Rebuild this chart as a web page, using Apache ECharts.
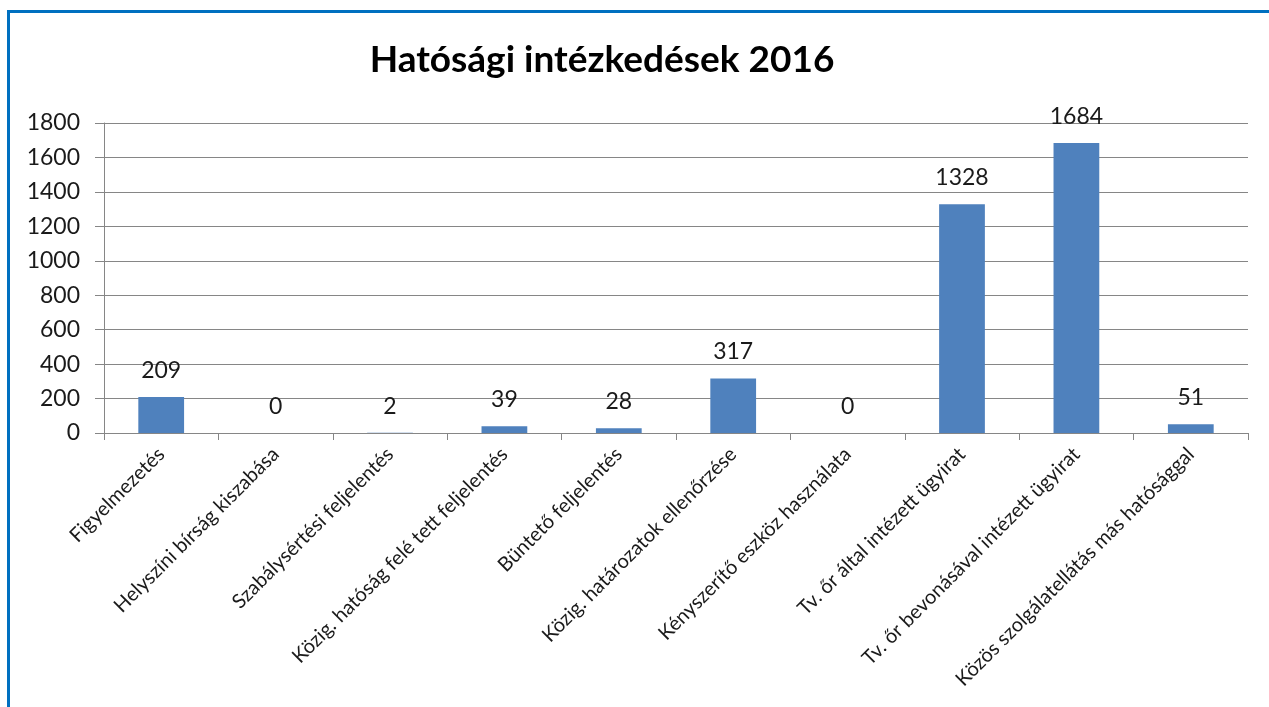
<!DOCTYPE html>
<html>
<head>
<meta charset="utf-8">
<script src="https://cdn.jsdelivr.net/npm/echarts@6/dist/echarts.min.js"></script>
<style>
html,body{margin:0;padding:0;background:#fff;}
#chart{width:1269px;height:707px;}
</style>
</head>
<body>
<div id="chart"></div>
<script>
const titleText = 'Hatósági intézkedések 2016';
const categories = [
  'Figyelmezetés',
  'Helyszíni bírság kiszabása',
  'Szabálysértési feljelentés',
  'Közig. hatóság felé tett feljelentés',
  'Büntető feljelentés',
  'Közig. határozatok ellenőrzése',
  'Kényszerítő eszköz használata',
  'Tv. őr által intézett ügyirat',
  'Tv. őr bevonásával intézett ügyirat',
  'Közös szolgálatellátás más hatósággal'
];
const values = [209, 0, 2, 39, 28, 317, 0, 1328, 1684, 51];
const yMin = 0, yMax = 1800, yStep = 200;

const chart = echarts.init(document.getElementById('chart'));
const font = 'Lato, "Open Sans", sans-serif';
chart.setOption({
  animation: false,
  backgroundColor: '#fff',
  title: {
    text: titleText,
    left: 597, top: 37, textAlign: 'center',
    textStyle: { fontFamily: font, fontWeight: 'bold', fontSize: 37, color: '#000' }
  },
  graphic: [{
    type: 'rect',
    shape: { x: 8.5, y: 11.5, width: 1400, height: 900 },
    style: { fill: 'none', stroke: '#0070C0', lineWidth: 3 },
    silent: true
  }],
  grid: { left: 104, right: 21, top: 123, bottom: 274, containLabel: false },
  xAxis: {
    type: 'category',
    data: categories,
    axisLine: { lineStyle: { color: '#868686', width: 1 } },
    axisTick: { show: true, alignWithLabel: false, length: 7, lineStyle: { color: '#868686' } },
    axisLabel: {
      rotate: 45, interval: 0, margin: 18,
      fontFamily: font, fontSize: 20, color: '#1a1a1a'
    }
  },
  yAxis: {
    type: 'value',
    min: yMin, max: yMax, interval: yStep,
    axisLine: { show: true, lineStyle: { color: '#868686' } },
    axisTick: { show: true, length: 9, lineStyle: { color: '#868686' } },
    splitLine: { lineStyle: { color: '#868686', width: 1 } },
    axisLabel: {
      margin: 24, fontFamily: font, fontSize: 23, color: '#1a1a1a',
      formatter: function (v) { return String(v); }
    }
  },
  series: [{
    type: 'bar',
    data: values,
    barWidth: '40%',
    itemStyle: { color: '#4F81BD' },
    label: {
      show: true, position: 'top', distance: 15,
      fontFamily: font, fontSize: 23, color: '#1a1a1a'
    }
  }]
});
</script>
</body>
</html>
